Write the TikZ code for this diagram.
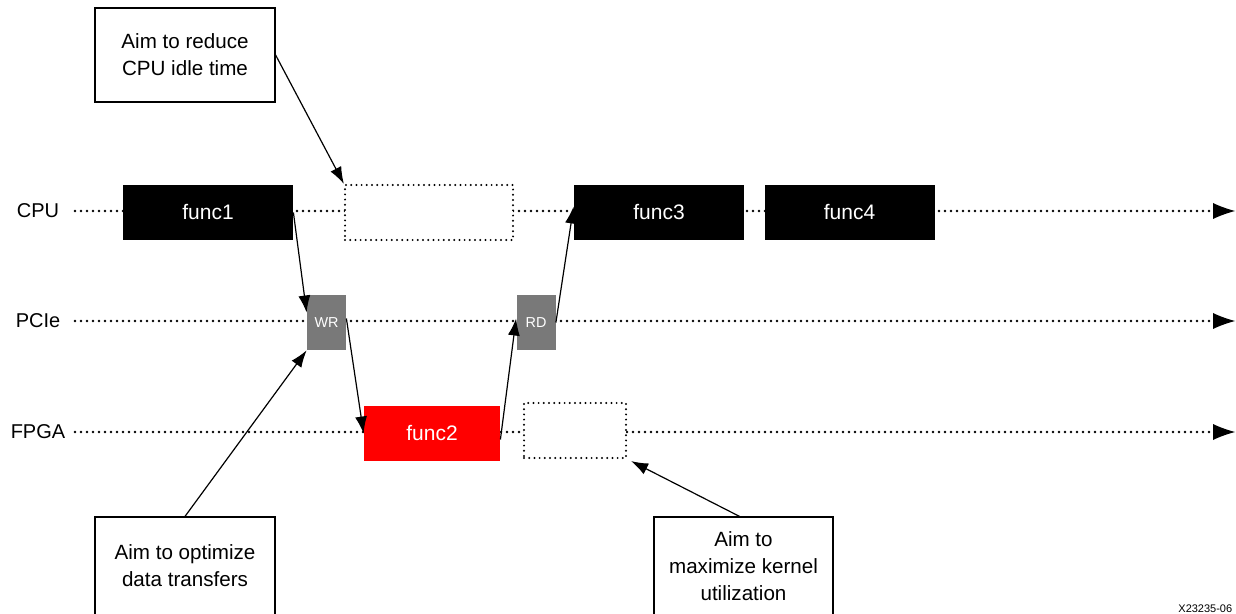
\documentclass[tikz,border=0pt]{standalone}
\usepackage{fontspec}
\setmainfont{Liberation Sans}
\usetikzlibrary{arrows.meta,positioning}

\tikzset{
  lane/.style={line width=1.3pt,line cap=round,dash pattern=on 0pt off 3pt,-{Latex[length=11pt,width=8pt,line width=0pt]}},
  conn/.style={line width=0.6pt,-{Latex[length=8.5pt,width=6pt]}},
  funcbox/.style={fill=black,text=white,minimum width=85pt,minimum height=27.5pt,inner sep=0pt,font=\fontsize{10.5}{12}\selectfont},
  idlebox/.style={draw,fill=white,line width=1.1pt,line cap=round,dash pattern=on 0pt off 2.6pt,minimum height=27.5pt,inner sep=0pt},
  xferbox/.style={fill=gray!95!black,text=white,minimum width=19.5pt,minimum height=27.5pt,inner sep=0pt,font=\fontsize{7.2}{8}\selectfont},
  notebox/.style={draw,line width=0.6pt,fill=white,minimum width=90pt,align=center,inner sep=0pt,font=\fontsize{10.3}{13.5}\selectfont},
  lanelabel/.style={font=\fontsize{10}{12}\selectfont}
}

\begin{document}
\begin{tikzpicture}[x=0.5pt,y=-0.5pt]
\useasboundingbox (0,0) rectangle (1236,614);

\node[lanelabel] (cpu) at (38,211) {CPU};
\node[lanelabel] (pcie) at (38,321) {PCIe};
\node[lanelabel] (fpga) at (38,432) {FPGA};
\coordinate (cpuend) at (1235,211);
\coordinate (pcieend) at (1235,321);
\coordinate (fpgaend) at (1235,432);
\coordinate (cpustart) at (75,211);
\coordinate (pciestart) at (75,321);
\coordinate (fpgastart) at (75,432);

\draw[lane] (cpustart) -- (cpuend);
\draw[lane] (pciestart) -- (pcieend);
\draw[lane] (fpgastart) -- (fpgaend);

\node[funcbox] (func1) at (208,212.5) {func1};
\node[idlebox,minimum width=84pt] (cpuidle) at (429,212.5) {};
\node[funcbox] (func3) at (659,212.5) {func3};
\node[funcbox] (func4) at (849.5,212.5) {func4};
\node[xferbox] (wr) at (326.5,322.5) {WR};
\node[xferbox] (rd) at (536,322.5) {RD};
\node[funcbox,fill=red,minimum width=68pt] (func2) at (432,433.5) {func2};
\node[idlebox,minimum width=51pt] (fpgaidle) at (575,430.5) {};

\node[notebox,minimum height=47pt] (idlenote) at (185,55) {Aim to reduce\\CPU idle time};
\node[notebox,minimum height=49pt] (xfernote) at (185,566) {Aim to optimize\\data transfers};
\node[notebox,minimum width=89.5pt,minimum height=49pt] (kernelnote) at (743.5,566) {Aim to\\maximize kernel\\utilization};

\draw[conn] (idlenote.east) -- (cpuidle.north west);
\draw[conn] (func1.east) -- ([yshift=5pt]wr.west);
\draw[conn] ([yshift=2pt]wr.east) -- (func2.west);
\draw[conn] ([yshift=-3pt]func2.east) -- ([yshift=2pt]rd.west);
\draw[conn] (rd.east) -- ([yshift=3pt]func3.west);
\draw[conn] (xfernote.north) -- (wr.south west);
\draw[conn] ([xshift=-2pt]kernelnote.north) -- ([xshift=2pt,yshift=-1pt]fpgaidle.south east);

\node[anchor=west,font=\fontsize{5.5}{6.5}\selectfont,inner sep=0pt] (figid) at (1178,609) {X23235-06};
\end{tikzpicture}
\end{document}
